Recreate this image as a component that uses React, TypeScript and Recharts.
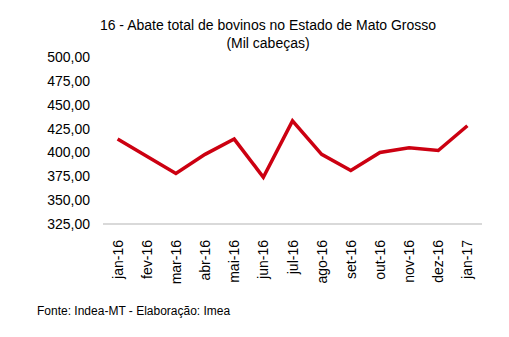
import { LineChart, Line, XAxis, YAxis } from 'recharts'

const months = ['jan-16', 'fev-16', 'mar-16', 'abr-16', 'mai-16', 'jun-16', 'jul-16', 'ago-16', 'set-16', 'out-16', 'nov-16', 'dez-16', 'jan-17']
const abate = [414, 396, 378, 398, 414, 374, 433, 398, 381, 400, 405, 402, 428]
const yTicks = [325, 350, 375, 400, 425, 450, 475, 500]

const data = months.map((m, i) => ({ month: m, abate: abate[i] }))

const font = '"Liberation Sans", Arial, sans-serif'

function MonthTick(props: any) {
  const { x, y, payload } = props
  return (
    <text
      x={x}
      y={y + 8}
      transform={`rotate(-90, ${x}, ${y + 8})`}
      textAnchor="end"
      dominantBaseline="central"
      fontSize={14}
      fontFamily={font}
      fill="#000"
    >
      {payload.value}
    </text>
  )
}

export default function App() {
  return (
    <div style={{ position: 'fixed', left: 0, top: 0, width: 509, height: 337, background: '#fff', fontFamily: font }}>
      <div style={{ position: 'absolute', left: 0, width: 536, top: 16, textAlign: 'center', fontSize: 14, lineHeight: '18px', color: '#000' }}>
        16 - Abate total de bovinos no Estado de Mato Grosso
        <br />
        (Mil cabeças)
      </div>
      <LineChart width={509} height={337} data={data} margin={{ top: 57, right: 27, bottom: 0, left: 0 }}>
        <XAxis
          dataKey="month"
          height={113}
          padding={{ left: 14.6, right: 14.6 }}
          axisLine={{ stroke: '#d9d9d9', strokeWidth: 2 }}
          tickLine={false}
          interval={0}
          tick={<MonthTick />}
        />
        <YAxis
          width={103}
          domain={[325, 500]}
          ticks={yTicks}
          axisLine={false}
          tickLine={false}
          tickMargin={7}
          tickFormatter={(v: number) => v.toFixed(2).replace('.', ',')}
          tick={{ fill: '#000', fontSize: 14, fontFamily: font }}
        />
        <Line
          type="linear"
          dataKey="abate"
          stroke="#cc0011"
          strokeWidth={3.5}
          dot={false}
          isAnimationActive={false}
        />
      </LineChart>
      <div style={{ position: 'absolute', left: 37, top: 302, fontSize: 12, lineHeight: '18px', color: '#000' }}>
        Fonte: Indea-MT - Elaboração: Imea
      </div>
    </div>
  )
}
